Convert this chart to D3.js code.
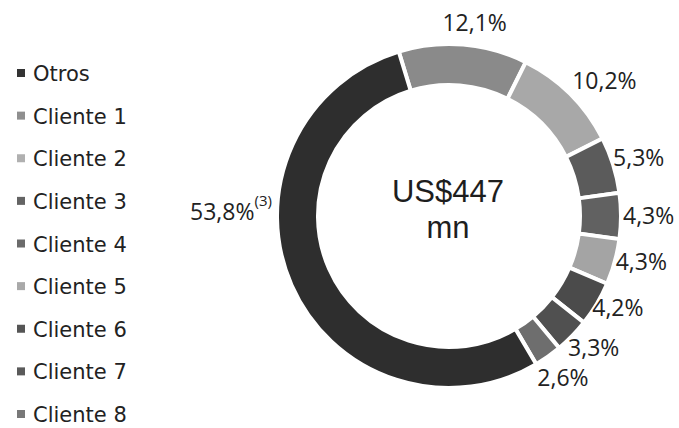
<!DOCTYPE html>
<html>
<head>
<meta charset="utf-8">
<script src="https://cdn.jsdelivr.net/npm/d3@7"></script>
<style>
  html, body { margin: 0; padding: 0; background: #fff; }
  svg { display: block; }
</style>
</head>
<body>
<svg id="chart" width="679" height="428"></svg>
<script>
// ---- data ----
const categories = ["Cliente 1", "Cliente 2", "Cliente 3", "Cliente 4", "Cliente 5", "Cliente 6", "Cliente 7", "Cliente 8", "Otros"];
const shares = [12.1, 10.2, 5.3, 4.3, 4.3, 4.2, 3.3, 2.6, 53.8];
const shareLabels = ["12,1%", "10,2%", "5,3%", "4,3%", "4,3%", "4,2%", "3,3%", "2,6%", "53,8%"];
const legendOrder = ["Otros", "Cliente 1", "Cliente 2", "Cliente 3", "Cliente 4", "Cliente 5", "Cliente 6", "Cliente 7", "Cliente 8"];
const centerLines = ["US$447", "mn"];
const otrosNote = "(3)";

// ---- styles / layout ----
const colors = ["#8a8a8a", "#a8a8a8", "#5b5b5b", "#616161", "#a4a4a4", "#4b4b4b", "#505050", "#6e6e6e", "#2e2e2e"];
const legendColors = {"Otros": "#333333", "Cliente 1": "#8f8f8f", "Cliente 2": "#b0b0b0", "Cliente 3": "#646464", "Cliente 4": "#6b6b6b", "Cliente 5": "#a9a9a9", "Cliente 6": "#555555", "Cliente 7": "#5a5a5a", "Cliente 8": "#787878"};
// label placement nudges (layout only)
const labelAnchor = ["middle", "start", "start", "start", "start", "start", "start", "start", "end"];
const labelNudge = [[11, -18], [-1, -11], [-4, -6], [-2, 0], [-3, -1], [-8, 2], [-7, 9], [-13, 18], [-16, -75]];

const cx = 449, cy = 216, outerR = 172, innerR = 131, labelR = 176;
const svg = d3.select("#chart");

const color = d3.scaleOrdinal().domain(categories).range(colors);

const pie = d3.pie().sort(null).value(d => d.v)
  .startAngle(-17 * Math.PI / 180)
  .endAngle(-17 * Math.PI / 180 + 2 * Math.PI);
const data = categories.map((c, i) => ({c, v: shares[i], label: shareLabels[i], i}));
const arcs = pie(data);
const arc = d3.arc().innerRadius(innerR).outerRadius(outerR);

const g = svg.append("g").attr("transform", `translate(${cx},${cy})`);
g.selectAll("path.slice").data(arcs).join("path")
  .attr("class", "slice")
  .attr("d", arc)
  .attr("fill", d => color(d.data.c))
  .attr("stroke", "#fff")
  .attr("stroke-width", 4)
  .attr("stroke-linejoin", "miter");

// percentage labels
const lab = g.selectAll("text.pct").data(arcs).join("text")
  .attr("class", "pct")
  .attr("font-family", "'Open Sans', sans-serif")
  .attr("font-size", 23)
  .attr("fill", "#222")
  .attr("text-anchor", d => labelAnchor[d.data.i])
  .attr("dy", "0.36em")
  .attr("x", d => {
    const a = (d.startAngle + d.endAngle) / 2;
    return labelR * Math.sin(a) + labelNudge[d.data.i][0];
  })
  .attr("y", d => {
    const a = (d.startAngle + d.endAngle) / 2;
    return -labelR * Math.cos(a) + labelNudge[d.data.i][1];
  });
lab.append("tspan").text(d => d.data.label);
lab.filter(d => d.data.c === "Otros").append("tspan")
  .attr("font-size", 15)
  .attr("dx", 0)
  .attr("dy", "-0.95em")
  .text(otrosNote);

// center text (single text element, two lines)
const ct = g.append("text")
  .attr("text-anchor", "middle")
  .attr("font-family", "'Liberation Sans', Arial, sans-serif")
  .attr("font-size", 31)
  .attr("fill", "#1e1e1e");
ct.selectAll("tspan").data(centerLines).join("tspan")
  .attr("x", -1)
  .attr("y", (d, i) => -14 + i * 36)
  .text(d => d);

// legend
const legY = d3.scalePoint().domain(legendOrder).range([81, 422]);
const leg = svg.append("g");
const li = leg.selectAll("g").data(legendOrder).join("g")
  .attr("transform", d => `translate(0,${legY(d)})`);
li.append("rect")
  .attr("x", 17).attr("y", -12).attr("width", 8).attr("height", 8)
  .attr("fill", d => legendColors[d]);
li.append("text")
  .attr("x", 33).attr("y", 0)
  .attr("font-family", "'DejaVu Sans', sans-serif")
  .attr("font-size", 21)
  .attr("fill", "#222")
  .text(d => d);
</script>
</body>
</html>
